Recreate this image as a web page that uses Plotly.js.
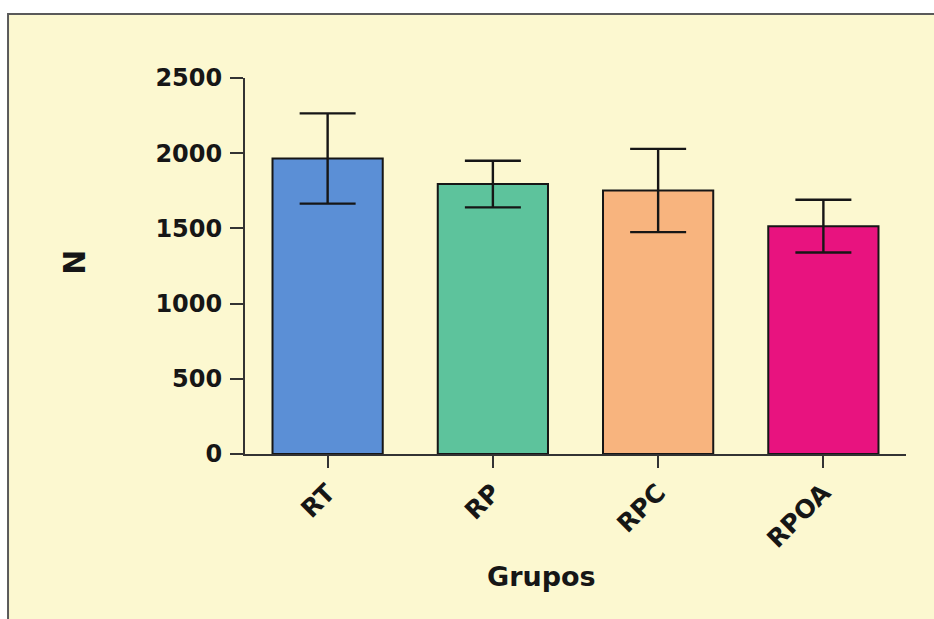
<!DOCTYPE html>
<html>
<head>
<meta charset="utf-8">
<script src="https://cdn.plot.ly/plotly-3.0.1.min.js"></script>
<style>html,body{margin:0;padding:0;background:#fff;}#chart{width:934px;height:619px;}</style>
</head>
<body>
<div id="chart"></div>
<script>
const categories = ["RT", "RP", "RPC", "RPOA"];
const means = [1965, 1795, 1752, 1515];
const sems = [300, 155, 277, 175];
const barColors = ["#5B8FD6", "#5DC39C", "#F8B47E", "#E8137F"];
const yTicks = [0, 500, 1000, 1500, 2000, 2500];

const fontFam = "DejaVu Sans, Arial, sans-serif";
const ink = "#161616";

const trace = {
  type: "bar",
  x: categories,
  y: means,
  marker: { color: barColors, line: { color: ink, width: 2 } },
  error_y: { type: "data", array: sems, visible: true, color: ink, thickness: 2.4, width: 28 },
  hoverinfo: "none"
};

const layout = {
  width: 934, height: 619,
  margin: { l: 245, r: 28, t: 78, b: 165 },
  paper_bgcolor: "#ffffff",
  plot_bgcolor: "rgba(0,0,0,0)",
  showlegend: false,
  bargap: 0.333,
  font: { family: fontFam, color: ink, size: 24 },
  xaxis: {
    type: "category",
    range: [-0.5, 3.5],
    showline: true, linecolor: "#333", linewidth: 2,
    ticks: "outside", ticklen: 12, tickwidth: 2, tickcolor: "#333",
    tickangle: -45,
    tickfont: { family: fontFam, size: 25, color: ink, weight: "bold" },
    showgrid: false, zeroline: false, fixedrange: true
  },
  yaxis: {
    range: [0, 2500],
    tickvals: yTicks,
    ticktext: yTicks.map(String),
    showline: true, linecolor: "#333", linewidth: 2,
    ticks: "outside", ticklen: 13, tickwidth: 2, tickcolor: "#333",
    tickfont: { family: fontFam, size: 24, color: ink, weight: "bold" },
    ticklabelstandoff: 3,
    showgrid: false, zeroline: false, fixedrange: true
  },
  shapes: [
    {
      type: "rect", xref: "paper", yref: "paper", layer: "below",
      x0: -0.3585, x1: 1.06, y0: -0.47, y1: 1.1702,
      fillcolor: "#FCF8D0", line: { color: "#5a5a5a", width: 2 }
    }
  ],
  annotations: [
    {
      text: "Grupos", xref: "paper", yref: "paper",
      x: 0.449, y: -0.327, showarrow: false,
      xanchor: "center", yanchor: "middle",
      font: { family: fontFam, size: 27, color: ink, weight: "bold" }
    },
    {
      text: "N", xref: "paper", yref: "paper",
      x: -0.2575, y: 0.511, showarrow: false, textangle: -90,
      xanchor: "center", yanchor: "middle",
      font: { family: fontFam, size: 30, color: ink, weight: "bold" }
    }
  ]
};

Plotly.newPlot("chart", [trace], layout, { displayModeBar: false, staticPlot: true });
</script>
</body>
</html>
